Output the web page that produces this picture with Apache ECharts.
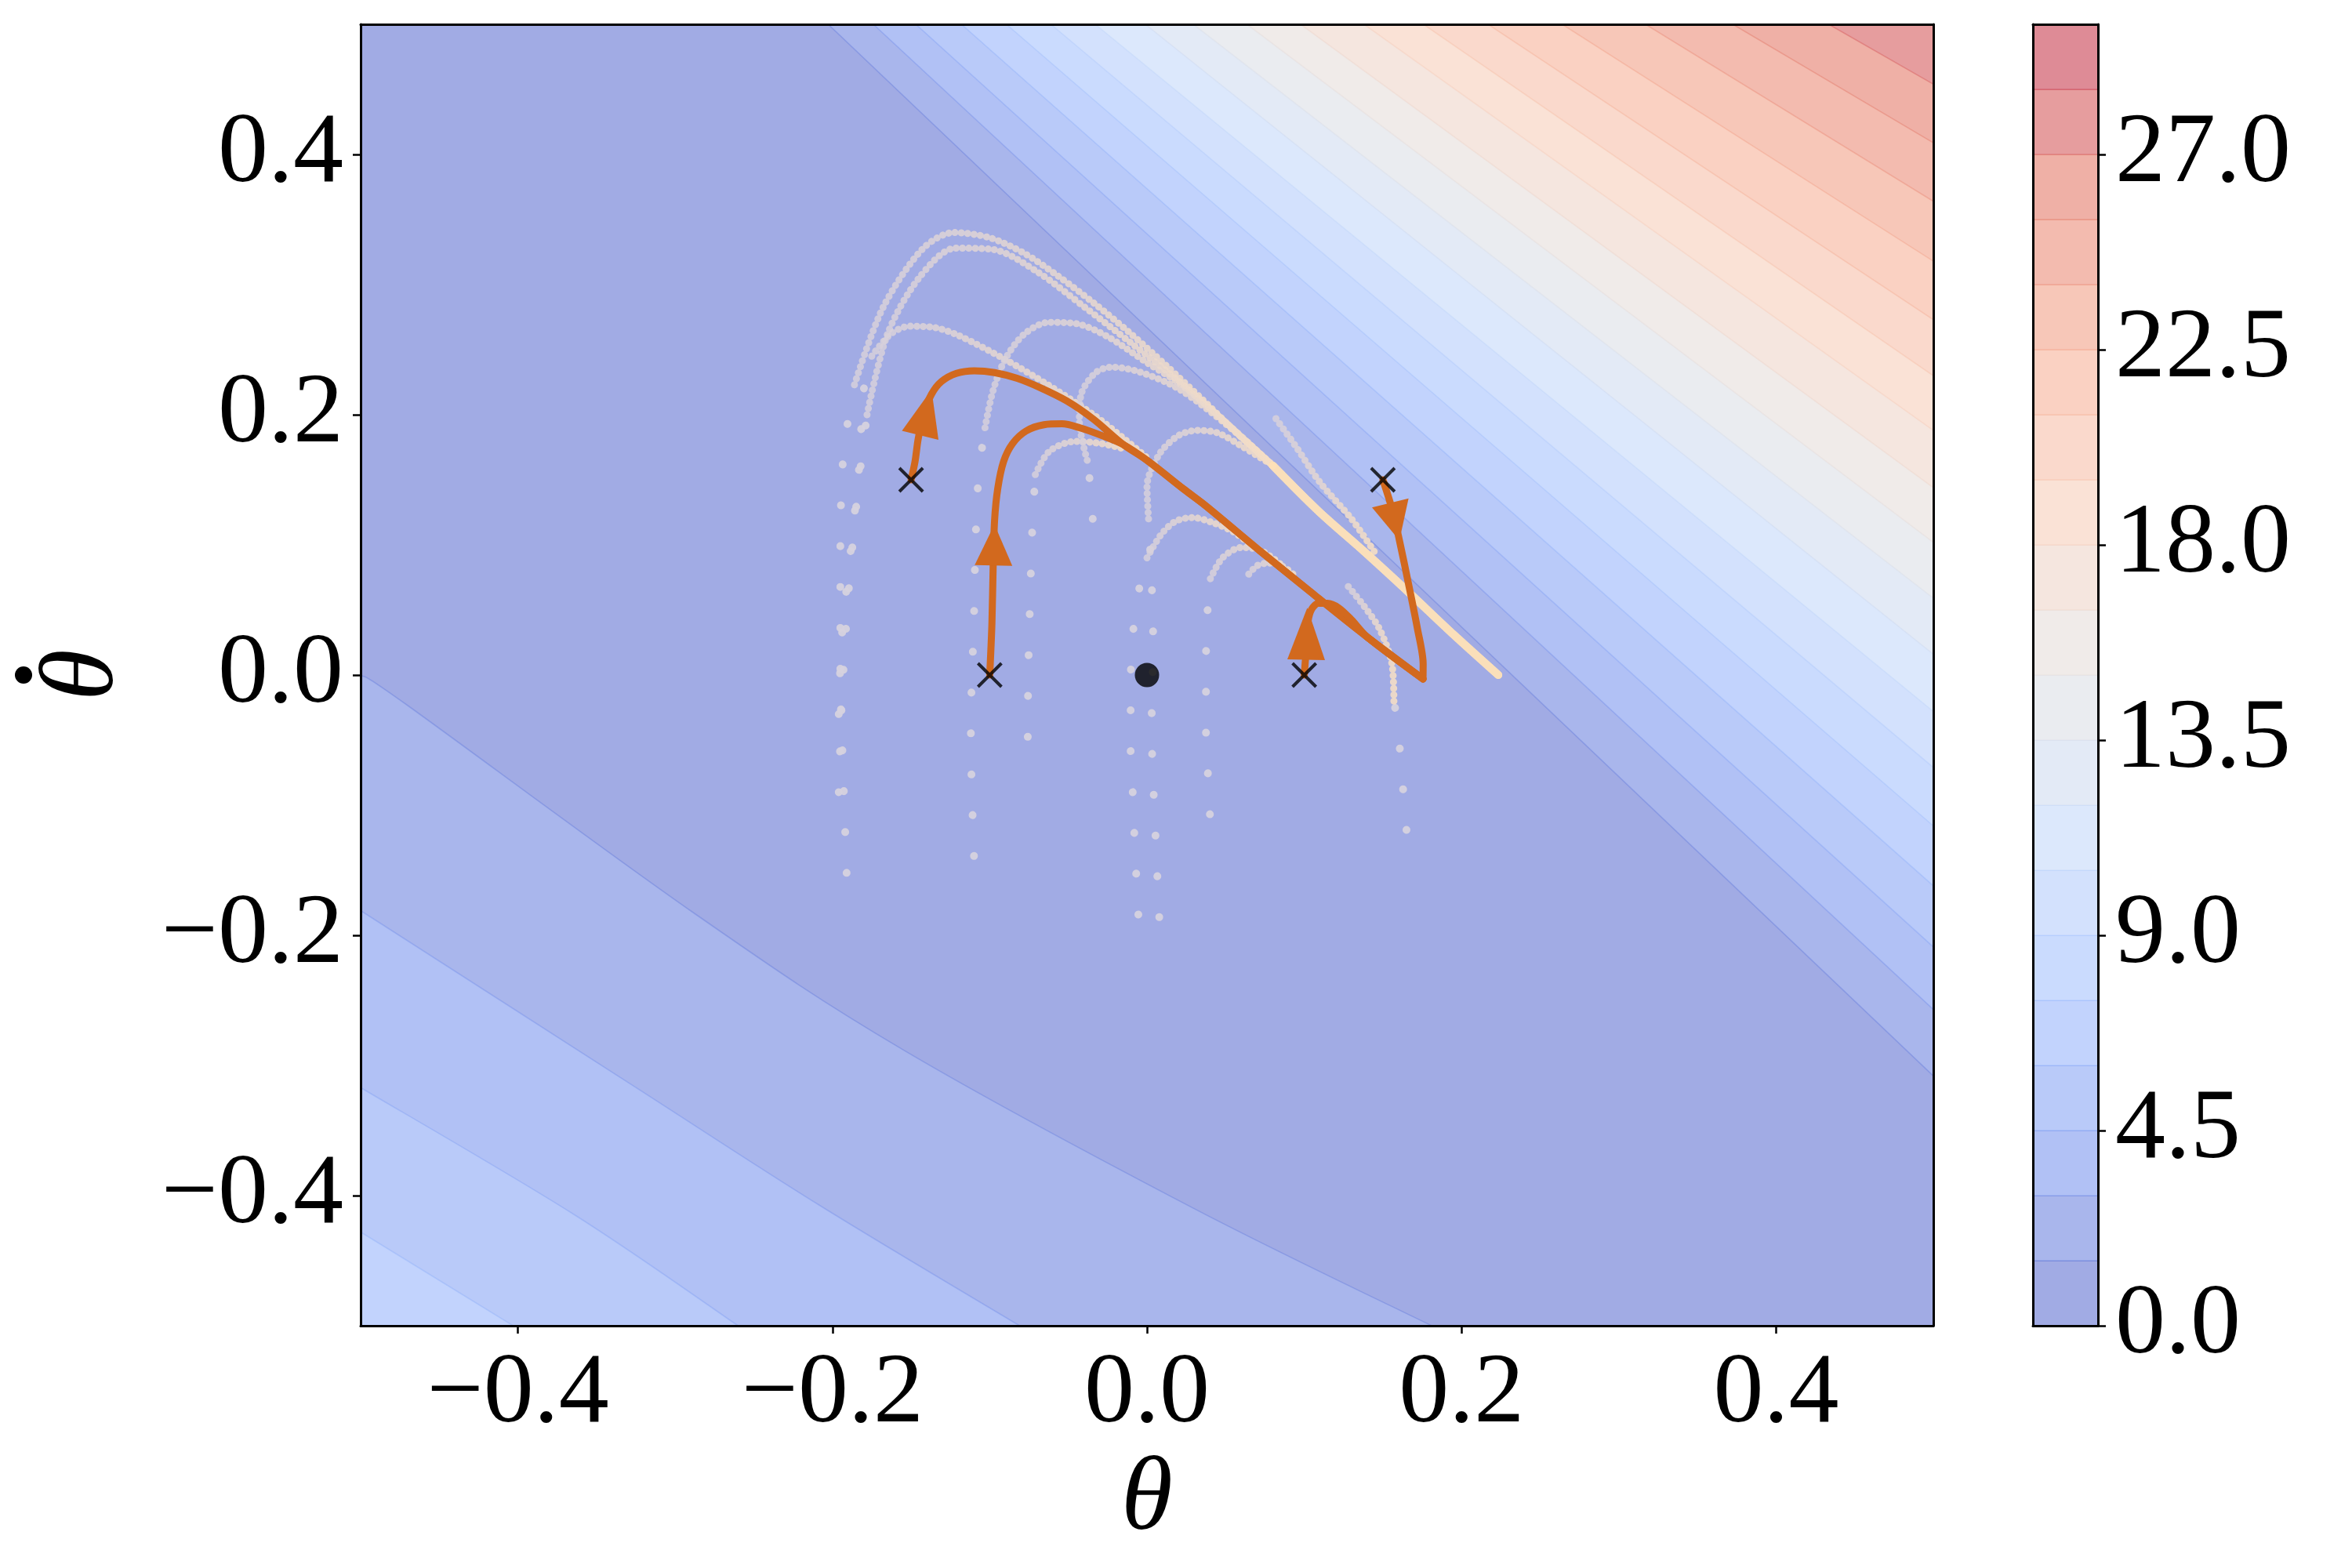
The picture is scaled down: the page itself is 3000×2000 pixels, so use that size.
<!DOCTYPE html>
<html>
<head>
<meta charset="utf-8"/>
<title>Phase portrait</title>
<script src="https://cdn.jsdelivr.net/npm/echarts@6/dist/echarts.min.js"></script>
<style>
  html, body { margin: 0; padding: 0; background: #fff; }
  #main { width: 3000px; height: 2000px; }
</style>
</head>
<body>
<div id="main"></div>
<script type="text/javascript">
// colorbar levels and ticks
var levels = [0, 1.5, 3, 4.5, 6, 7.5, 9, 10.5, 12, 13.5, 15, 16.5, 18, 19.5, 21, 22.5, 24, 25.5, 27, 28.5, 30];
var cbarTicks = [0, 4.5, 9, 13.5, 18, 22.5, 27];
var xTicks = [-0.4, -0.2, 0, 0.2, 0.4];
var yTicks = [-0.4, -0.2, 0, 0.2, 0.4];

// upper-right contour lines (levels 1.5 .. 27): theta where they cut the top edge, theta_dot where they cut the right edge
var upperTop = [-0.2027, -0.174, -0.147, -0.118, -0.0894, -0.0611, -0.0329, -0.0011, 0.0295, 0.0636, 0.0977, 0.138, 0.1758, 0.2169, 0.264, 0.317, 0.3725, 0.4335];
var upperRight = [-0.308, -0.257, -0.209, -0.162, -0.116, -0.071, -0.028, 0.016, 0.059, 0.102, 0.144, 0.188, 0.230, 0.273, 0.318, 0.364, 0.409, 0.454];

// lower-left contour lines (levels 1.5 .. 6)
var lowerLines = [
    [[-0.5, 0.0], [-0.47, -0.0235], [-0.288, -0.183], [-0.155, -0.288], [0.03, -0.41], [0.181, -0.5]],
    [[-0.5, -0.181], [-0.33, -0.313], [-0.2075, -0.408], [-0.081, -0.5]],
    [[-0.5, -0.317], [-0.365, -0.414], [-0.26, -0.5]],
    [[-0.5, -0.428], [-0.403, -0.5]]
];

// controlled trajectories (orange)
var mergedPath = [[-0.015, 0.177], [0.0, 0.165], [0.0232, 0.143], [0.0374, 0.13], [0.0717, 0.0955], [0.1059, 0.062], [0.1402, 0.029], [0.1755, -0.003]];
var traj1 = [[-0.15, 0.15], [-0.1475, 0.164], [-0.1455, 0.1813], [-0.1421, 0.2003], [-0.137, 0.2158], [-0.1307, 0.2255], [-0.1212, 0.2318], [-0.1098, 0.2338], [-0.0969, 0.2324], [-0.0826, 0.228], [-0.0683, 0.221], [-0.0512, 0.2107], [-0.034, 0.1965]];
var traj2 = [[-0.1, 0.0], [-0.0986, 0.0395], [-0.0978, 0.0844], [-0.0969, 0.119], [-0.0949, 0.1432], [-0.0912, 0.164], [-0.0855, 0.1778], [-0.0769, 0.1875], [-0.0655, 0.1923], [-0.054, 0.193], [-0.0426, 0.1899], [-0.0283, 0.1838]];
var traj3 = [[0.1, 0.0], [0.1016, 0.0257], [0.1024, 0.0412], [0.1047, 0.0506], [0.109, 0.0551], [0.1147, 0.0551], [0.1219, 0.0516], [0.13, 0.0425], [0.1402, 0.029], [0.1755, -0.003]];
var traj4 = [[0.15, 0.15], [0.1562, 0.126], [0.1605, 0.1035], [0.1662, 0.0706], [0.1719, 0.036], [0.1756, 0.0084], [0.1755, -0.003]];
// arrow heads: [tail theta, tail theta_dot, tip theta, tip theta_dot]
var arrows = [[-0.1442, 0.1842, -0.137, 0.2193], [-0.0976, 0.0842, -0.097, 0.1156], [0.1012, 0.0118, 0.1019, 0.0516], [0.1547, 0.1322, 0.1605, 0.1035]];
var startPoints = [[-0.15, 0.15], [-0.1, 0.0], [0.1, 0.0], [0.15, 0.15]];
var origin = [[0, 0]];

// faint sampled trajectories: sparse (fast) part, dense (slow) part and the shared bright end
var creamTail = [[0.080, 0.161], [0.109, 0.126], [0.138, 0.095], [0.166, 0.064], [0.195, 0.031], [0.2234, 0.0]];
var faintSparse = [
    [[-0.191, -0.152], [-0.193, -0.08], [-0.195, 0.0], [-0.195, 0.09], [-0.193, 0.17], [-0.186, 0.223]],
    [[-0.196, -0.09], [-0.194, -0.02], [-0.19, 0.06], [-0.184, 0.14], [-0.178, 0.2]],
    [[-0.196, -0.03], [-0.194, 0.03], [-0.188, 0.1], [-0.183, 0.16], [-0.18, 0.22], [-0.175, 0.245]],
    [[-0.11, -0.139], [-0.1115, -0.083], [-0.112, -0.035], [-0.111, 0.008], [-0.11, 0.045], [-0.109, 0.103], [-0.107, 0.154], [-0.103, 0.19]],
    [[-0.0758, -0.0475], [-0.0755, 0.0], [-0.0745, 0.05], [-0.073, 0.11], [-0.071, 0.154]],
    [[-0.0345, 0.12], [-0.036, 0.145], [-0.038, 0.165]],
    [[0.0078, -0.186], [0.006, -0.139], [0.0045, -0.098], [0.0033, -0.062], [0.003, -0.031], [0.004, 0.02], [0.003, 0.07], [0.001, 0.12]],
    [[-0.0055, -0.184], [-0.0076, -0.135], [-0.009, -0.092], [-0.0104, -0.056], [-0.0104, -0.025], [-0.0097, 0.02], [-0.006, 0.06], [0.0, 0.09]],
    [[0.04, -0.107], [0.0386, -0.0726], [0.0375, -0.045], [0.0375, 0.0], [0.038, 0.04], [0.0403, 0.074]],
    [[0.165, -0.119], [0.163, -0.09], [0.161, -0.06], [0.159, -0.035], [0.157, -0.02]]
];
var faintDense = [
    [[-0.186, 0.223], [-0.168, 0.282], [-0.143, 0.327], [-0.123, 0.340], [-0.100, 0.336], [-0.078, 0.324], [-0.057, 0.307], [-0.034, 0.286], [-0.011, 0.263], [0.012, 0.238], [0.035, 0.212], [0.058, 0.185], [0.080, 0.161]],
    [[-0.178, 0.2], [-0.165, 0.262], [-0.145, 0.305], [-0.122, 0.328], [-0.098, 0.327], [-0.07, 0.31], [-0.04, 0.283], [-0.01, 0.255], [0.02, 0.226], [0.05, 0.194], [0.080, 0.161]],
    [[-0.175, 0.245], [-0.163, 0.262], [-0.151, 0.268], [-0.135, 0.267], [-0.12, 0.261], [-0.091, 0.243], [-0.063, 0.223], [-0.034, 0.2], [-0.015, 0.182], [0.0, 0.167]],
    [[-0.103, 0.19], [-0.098, 0.218], [-0.09, 0.243], [-0.078, 0.262], [-0.0626, 0.271], [-0.045, 0.27], [-0.025, 0.26], [0.0, 0.24], [0.023, 0.222], [0.052, 0.192], [0.080, 0.161]],
    [[-0.071, 0.154], [-0.062, 0.172], [-0.0455, 0.1795], [-0.03, 0.178], [-0.015, 0.174]],
    [[-0.038, 0.165], [-0.043, 0.195], [-0.042, 0.215], [-0.033, 0.232], [-0.0226, 0.2366], [-0.005, 0.233], [0.02, 0.22], [0.05, 0.193], [0.080, 0.161]],
    [[0.001, 0.12], [0.0, 0.145], [0.008, 0.17], [0.02, 0.184], [0.032, 0.188], [0.045, 0.186], [0.06, 0.176], [0.080, 0.161]],
    [[0.0, 0.09], [0.009, 0.108], [0.018, 0.118], [0.029, 0.121], [0.042, 0.117], [0.055, 0.11], [0.065, 0.101]],
    [[0.0403, 0.074], [0.048, 0.09], [0.06, 0.098], [0.072, 0.096], [0.085, 0.085]],
    [[0.157, -0.02], [0.1556, 0.0095], [0.148, 0.035], [0.138, 0.053], [0.128, 0.068]],
    [[0.0647, 0.0775], [0.07, 0.084], [0.077, 0.086], [0.087, 0.083], [0.095, 0.075]],
    [[0.082, 0.197], [0.095, 0.175], [0.11, 0.148], [0.13, 0.12], [0.145, 0.094]]
];
// which dense tracks continue along the bright cream line
var joinsCream = [true, true, false, true, false, true, true, false, false, false, false, false];

// coolwarm colour map
var coolwarmStops = [[0, 59, 76, 192], [0.125, 98, 130, 234], [0.25, 141, 176, 254], [0.375, 184, 208, 249], [0.5, 221, 220, 220], [0.625, 245, 196, 173], [0.75, 244, 154, 123], [0.875, 222, 96, 77], [1, 180, 4, 38]];
function coolwarm(t) {
    for (var i = 1; i < coolwarmStops.length; i++) {
        var a = coolwarmStops[i - 1], b = coolwarmStops[i];
        if (t <= b[0]) {
            var f = (t - a[0]) / (b[0] - a[0]);
            return [a[1] + f * (b[1] - a[1]), a[2] + f * (b[2] - a[2]), a[3] + f * (b[3] - a[3])];
        }
    }
    return coolwarmStops[coolwarmStops.length - 1].slice(1);
}
var ALPHA = 0.5;
function bandRgb(k) {
    return coolwarm((k + 0.5) / (levels.length - 1));
}
function bandFill(k) {
    var c = bandRgb(k);
    return 'rgb(' + c.map(function (v) { return Math.round(255 + ALPHA * (v - 255)); }).join(',') + ')';
}
function bandEdge(k) {
    var c = bandRgb(k);
    return 'rgba(' + c.map(Math.round).join(',') + ',0.32)';
}

// filled regions, painted from the lowest level up
var bandPolys = [{ k: 0, pts: [[-0.5, -0.5], [0.5, -0.5], [0.5, 0.5], [-0.5, 0.5]], curve: false }];
for (var i = 0; i < upperTop.length; i++) {
    bandPolys.push({ k: i + 1, pts: [[upperTop[i], 0.5], [0.5, upperRight[i]], [0.5, 0.5]], curve: false });
}
lowerLines.forEach(function (line, i) {
    bandPolys.push({ k: i + 1, pts: line, corner: [-0.5, -0.5], curve: true });
});

// smooth path through the contour points, closed through the plot corner
function curvePath(px, corner) {
    var d = 'M' + px[0][0] + ' ' + px[0][1];
    for (var j = 0; j < px.length - 1; j++) {
        var p0 = px[Math.max(j - 1, 0)], p1 = px[j], p2 = px[j + 1], p3 = px[Math.min(j + 2, px.length - 1)];
        var c1 = [p1[0] + (p2[0] - p0[0]) / 6, p1[1] + (p2[1] - p0[1]) / 6];
        var c2 = [p2[0] - (p3[0] - p1[0]) / 6, p2[1] - (p3[1] - p1[1]) / 6];
        d += 'C' + c1[0] + ' ' + c1[1] + ' ' + c2[0] + ' ' + c2[1] + ' ' + p2[0] + ' ' + p2[1];
    }
    d += 'L' + corner[0] + ' ' + corner[1] + 'Z';
    return d;
}

var serif = 'Liberation Serif';
function fmt(v) {
    if (Math.abs(v) < 1e-9) v = 0;
    return v.toFixed(1).replace('-', '\u2212');
}
var frameLine = { show: true, onZero: false, lineStyle: { color: '#000', width: 3 } };
var labelStyle = { fontFamily: serif, fontSize: 128, color: '#000' };
function plainAxis(grid, pos, min, max) {
    return {
        gridIndex: grid, type: 'value', position: pos, min: min, max: max, z: 10,
        axisLine: frameLine, axisTick: { show: false }, axisLabel: { show: false }, splitLine: { show: false }
    };
}

var series = [];
series.push({
    type: 'custom', xAxisIndex: 0, yAxisIndex: 0, z: 1, silent: true, clip: true,
    data: bandPolys.map(function (b) { return b.pts[0]; }),
    renderItem: function (params, api) {
        var b = bandPolys[params.dataIndex];
        var px = b.pts.map(function (p) { return api.coord(p); });
        var style = { fill: bandFill(b.k), stroke: bandEdge(b.k), lineWidth: 1.6 };
        if (b.curve) {
            return { type: 'path', shape: { pathData: curvePath(px, api.coord(b.corner)) }, style: style };
        }
        return { type: 'polygon', shape: { points: px }, style: style };
    }
});

faintSparse.forEach(function (pts) {
    series.push({
        type: 'line', xAxisIndex: 0, yAxisIndex: 0, z: 2, silent: true, smooth: 0.3,
        showSymbol: false, data: pts,
        lineStyle: { color: 'rgba(214,210,222,0.95)', width: 10, type: [0.1, 52], cap: 'round' }
    });
});
faintDense.forEach(function (pts) {
    series.push({
        type: 'line', xAxisIndex: 0, yAxisIndex: 0, z: 3, silent: true, smooth: 0.3,
        showSymbol: false, data: pts,
        lineStyle: {
            width: 9, cap: 'round', type: [0.1, 8],
            color: new echarts.graphic.LinearGradient(0, 0, 1, 0, [
                { offset: 0, color: 'rgba(214,208,220,0.85)' },
                { offset: 1, color: 'rgba(246,222,196,0.9)' }
            ])
        }
    });
});
joinsCream.forEach(function (j) {
    if (!j) return;
    series.push({
        type: 'line', xAxisIndex: 0, yAxisIndex: 0, z: 3, silent: true, smooth: 0.3,
        showSymbol: false, data: creamTail,
        lineStyle: { color: 'rgba(255,226,184,0.45)', width: 10, cap: 'round' }
    });
});

[traj1.concat(mergedPath), traj2.concat(mergedPath), traj3, traj4].forEach(function (pts) {
    series.push({
        type: 'line', xAxisIndex: 0, yAxisIndex: 0, z: 4, silent: true, smooth: 0.3,
        showSymbol: false, data: pts,
        lineStyle: { color: '#d2691e', width: 9, cap: 'round', join: 'round' }
    });
});

series.push({
    type: 'custom', xAxisIndex: 0, yAxisIndex: 0, z: 5, silent: true,
    encode: { x: [0, 2], y: [1, 3] },
    data: arrows,
    renderItem: function (params, api) {
        var tail = api.coord([api.value(0), api.value(1)]);
        var tip = api.coord([api.value(2), api.value(3)]);
        var dx = tip[0] - tail[0], dy = tip[1] - tail[1];
        var len = Math.sqrt(dx * dx + dy * dy);
        var nx = -dy / len * 24, ny = dx / len * 24;
        return {
            type: 'polygon',
            shape: { points: [tip, [tail[0] + nx, tail[1] + ny], [tail[0] - nx, tail[1] - ny]] },
            style: { fill: '#d2691e' }
        };
    }
});

series.push({
    type: 'scatter', xAxisIndex: 0, yAxisIndex: 0, z: 6, silent: true,
    data: startPoints, symbol: 'path://M0,0L10,10M10,0L0,10', symbolSize: 30,
    itemStyle: { color: 'rgba(0,0,0,0)', borderColor: '#000', borderWidth: 4 }
});
series.push({
    type: 'scatter', xAxisIndex: 0, yAxisIndex: 0, z: 6, silent: true,
    data: origin, symbol: 'circle', symbolSize: 31, itemStyle: { color: '#000' }
});

// colorbar
series.push({
    type: 'custom', xAxisIndex: 2, yAxisIndex: 2, z: 1, silent: true,
    data: levels.slice(0, -1).map(function (lo) { return [0.5, lo]; }),
    renderItem: function (params, api) {
        var k = params.dataIndex;
        var p0 = api.coord([0, levels[k]]);
        var p1 = api.coord([1, levels[k + 1]]);
        return {
            type: 'rect',
            shape: { x: p0[0], y: p1[1], width: p1[0] - p0[0], height: p0[1] - p1[1] },
            style: { fill: bandFill(k), stroke: bandEdge(k), lineWidth: 1.5 }
        };
    }
});

var option = {
    animation: false,
    backgroundColor: '#fff',
    grid: [
        { left: 460, right: 534, top: 31, bottom: 309, outerBoundsMode: 'none' },
        { left: 2593, right: 324, top: 31, bottom: 309, outerBoundsMode: 'none' }
    ],
    xAxis: [
        {
            gridIndex: 0, type: 'value', position: 'bottom', min: -0.5, max: 0.5, z: 10,
            axisLine: frameLine,
            axisTick: { show: true, customValues: xTicks, length: 10, lineStyle: { color: '#000', width: 2.5 } },
            axisLabel: Object.assign({ customValues: xTicks, formatter: fmt, margin: 24 }, labelStyle),
            splitLine: { show: false },
            name: '\u03b8', nameLocation: 'middle', nameGap: 126,
            nameTextStyle: { fontFamily: serif, fontStyle: 'italic', fontSize: 134, color: '#000' }
        },
        plainAxis(0, 'top', -0.5, 0.5),
        plainAxis(1, 'bottom', 0, 1),
        plainAxis(1, 'top', 0, 1)
    ],
    yAxis: [
        {
            gridIndex: 0, type: 'value', position: 'left', min: -0.5, max: 0.5, z: 10,
            axisLine: frameLine,
            axisTick: { show: true, customValues: yTicks, length: 10, lineStyle: { color: '#000', width: 2.5 } },
            axisLabel: Object.assign({ customValues: yTicks, formatter: fmt, margin: 22 }, labelStyle),
            splitLine: { show: false },
            // theta with a dot above it, turned to read upwards
            name: '{d|}\n{t|\u03b8}', nameLocation: 'middle', nameGap: 287, nameRotate: 90,
            nameTextStyle: {
                rich: {
                    d: { width: 22, height: 22, lineHeight: 26, backgroundColor: '#000', borderRadius: 11, align: 'center' },
                    t: { fontFamily: serif, fontStyle: 'italic', fontSize: 134, lineHeight: 130, color: '#000', align: 'center' }
                }
            }
        },
        plainAxis(0, 'right', -0.5, 0.5),
        {
            gridIndex: 1, type: 'value', position: 'right', min: 0, max: 30, z: 10,
            axisLine: frameLine,
            axisTick: { show: true, customValues: cbarTicks, length: 10, lineStyle: { color: '#000', width: 2.5 } },
            axisLabel: Object.assign({ customValues: cbarTicks, formatter: fmt, margin: 22 }, labelStyle),
            splitLine: { show: false }
        },
        plainAxis(1, 'left', 0, 30)
    ],
    series: series
};

var myChart = echarts.init(document.getElementById('main'));
myChart.setOption(option);
</script>
</body>
</html>
